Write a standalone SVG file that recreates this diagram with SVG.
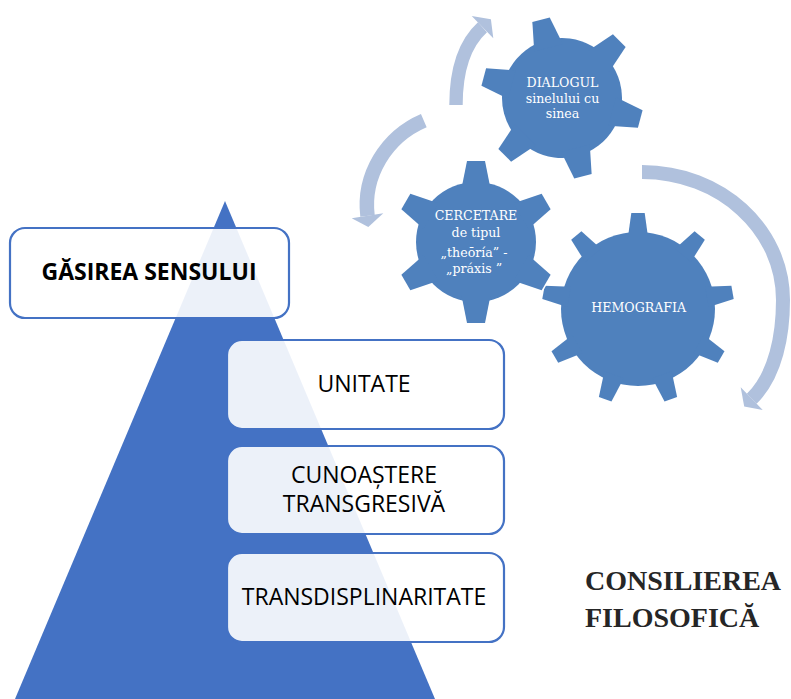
<svg xmlns="http://www.w3.org/2000/svg" xmlns:xlink="http://www.w3.org/1999/xlink" width="791" height="699" viewBox="0 0 791 699">
<style>
.box{fill:#ffffff;fill-opacity:0.9;stroke:#4472C4;stroke-width:2.2}
.bt{font-family:"Open Sans","Liberation Sans",sans-serif;font-size:23px;fill:#000;text-anchor:middle}
.gt{font-family:"DejaVu Serif","Liberation Serif",serif;font-size:12.6px;fill:#ffffff;text-anchor:middle}
.arc{fill:none;stroke:#B0C1DD;stroke-linecap:butt}
.head{fill:#B0C1DD}
.gout{fill:#ffffff;stroke:#ffffff;stroke-width:3;stroke-linejoin:round}
.gfill{fill:#4F81BD}
</style>
<defs>
<polygon id="t6" points="-14.8,-52 -9,-81 9,-81 14.8,-52"/>
<g id="gear6">
<circle r="60"/>
<use xlink:href="#t6"/>
<use xlink:href="#t6" transform="rotate(60)"/>
<use xlink:href="#t6" transform="rotate(120)"/>
<use xlink:href="#t6" transform="rotate(180)"/>
<use xlink:href="#t6" transform="rotate(240)"/>
<use xlink:href="#t6" transform="rotate(300)"/>
</g>
<polygon id="t9" points="-10.3,-70 -6.7,-96 6.7,-96 10.3,-70"/>
<g id="gear9">
<circle r="77"/>
<use xlink:href="#t9"/>
<use xlink:href="#t9" transform="rotate(40)"/>
<use xlink:href="#t9" transform="rotate(80)"/>
<use xlink:href="#t9" transform="rotate(120)"/>
<use xlink:href="#t9" transform="rotate(160)"/>
<use xlink:href="#t9" transform="rotate(200)"/>
<use xlink:href="#t9" transform="rotate(240)"/>
<use xlink:href="#t9" transform="rotate(280)"/>
<use xlink:href="#t9" transform="rotate(320)"/>
</g>
</defs>
<rect width="791" height="699" fill="#ffffff"/>

<g id="pyramid">
<polygon points="225,201 435,699 15,699" fill="#4472C4"/>
</g>

<g id="node-gasirea">
<rect class="box" x="10" y="228" width="279" height="90" rx="15"/>
<text class="bt" x="149" y="280" font-weight="bold" font-size="22.5">GĂSIREA SENSULUI</text>
</g>
<g id="node-unitate">
<rect class="box" x="227" y="340" width="277" height="89" rx="15"/>
<text class="bt" x="364" y="392">UNITATE</text>
</g>
<g id="node-cunoastere">
<rect class="box" x="227" y="446" width="277" height="88" rx="15"/>
<text class="bt" x="364" y="483">CUNOAȘTERE</text>
<text class="bt" x="364" y="512">TRANSGRESIVĂ</text>
</g>
<g id="node-transdisciplinaritate">
<rect class="box" x="227" y="553" width="277" height="89" rx="15"/>
<text class="bt" x="364" y="605">TRANSDISPLINARITATE</text>
</g>

<g id="connectors">
<path class="arc" stroke-width="13.4" d="M456,105 C456,76.2 461.4,46.3 482.5,27.2"/>
<polygon class="head" points="471.7,16 490.9,19.3 493.3,38.3"/>
<path class="arc" stroke-width="14.5" d="M423.8,120.6 C386.2,136.7 362.6,175.3 367.5,215.8"/>
<polygon class="head" points="351.7,218.3 368.3,227 383.3,213.3"/>
<path class="arc" stroke-width="14" d="M642,172 C720.4,172 783,229.3 783,300 C783,334 776.1,375 751.7,398.7"/>
<polygon class="head" points="740.7,387.3 744.2,406.5 762.7,410"/>
</g>

<g id="node-hemografia">
<g transform="translate(638,309)">
<use xlink:href="#gear9" class="gout"/>
<use xlink:href="#gear9" class="gfill"/>
</g>
<text class="gt" x="638.7" y="311.7">HEMOGRAFIA</text>
</g>
<g id="node-cercetare">
<g transform="translate(476,242)">
<use xlink:href="#gear6" class="gout"/>
<use xlink:href="#gear6" class="gfill"/>
</g>
<text class="gt" x="476" y="220">CERCETARE</text>
<text class="gt" x="476" y="236.7">de tipul</text>
<text class="gt" x="474" y="256.7">„theōría” -</text>
<text class="gt" x="474" y="272.7">„práxis ”</text>
</g>
<g id="node-dialogul">
<g transform="translate(562,98) rotate(-15)">
<use xlink:href="#gear6" class="gout"/>
<use xlink:href="#gear6" class="gfill"/>
</g>
<text class="gt" x="562.5" y="86.7">DIALOGUL</text>
<text class="gt" x="562.5" y="103.3">sinelului cu</text>
<text class="gt" x="562.5" y="118.3">sinea</text>
</g>

<g id="title">
<text x="585" y="590" font-family="'Liberation Serif','Times New Roman',serif" font-weight="bold" font-size="28" fill="#262626">CONSILIEREA</text>
<text x="585" y="627" font-family="'Liberation Serif','Times New Roman',serif" font-weight="bold" font-size="28" fill="#262626">FILOSOFICĂ</text>
</g>
</svg>
